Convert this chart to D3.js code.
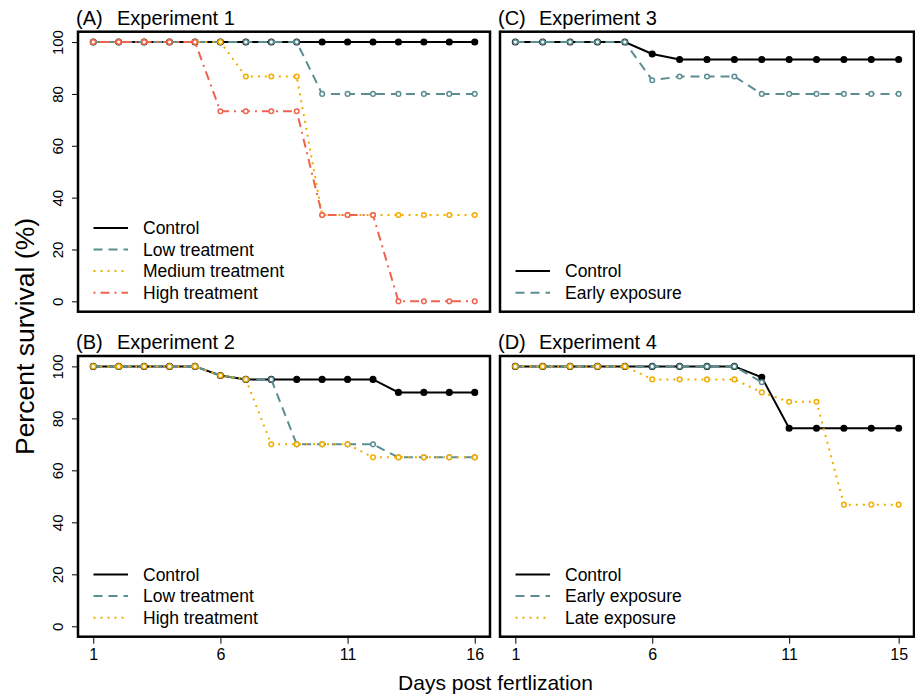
<!DOCTYPE html>
<html>
<head>
<meta charset="utf-8">
<script src="https://cdn.jsdelivr.net/npm/d3@7"></script>
<style>
  body { margin: 0; background: #fff; }
  svg { font-family: "Liberation Sans", Arial, sans-serif; }
</style>
</head>
<body>
<svg id="chart" width="915" height="700"></svg>
<script>
// days post fertilization
const days16 = [1, 2, 3, 4, 5, 6, 7, 8, 9, 10, 11, 12, 13, 14, 15, 16];
const days15 = [1, 2, 3, 4, 5, 6, 7, 8, 9, 10, 11, 12, 13, 14, 15];
const days10 = [1, 2, 3, 4, 5, 6, 7, 8, 9, 10];

// Experiment 1
const exp1Control = [100, 100, 100, 100, 100, 100, 100, 100, 100, 100, 100, 100, 100, 100, 100, 100];
const exp1Low = [100, 100, 100, 100, 100, 100, 100, 100, 100, 80, 80, 80, 80, 80, 80, 80];
const exp1Medium = [100, 100, 100, 100, 100, 100, 86.7, 86.7, 86.7, 33.3, 33.3, 33.3, 33.3, 33.3, 33.3, 33.3];
const exp1High = [100, 100, 100, 100, 100, 73.3, 73.3, 73.3, 73.3, 33.3, 33.3, 33.3, 0, 0, 0, 0];

// Experiment 2
const exp2Control = [100, 100, 100, 100, 100, 96.5, 95, 95, 95, 95, 95, 95, 90, 90, 90, 90];
const exp2Low = [100, 100, 100, 100, 100, 96.5, 95, 95, 70, 70, 70, 70, 65, 65, 65, 65];
const exp2High = [100, 100, 100, 100, 100, 96.5, 95, 70, 70, 70, 70, 65, 65, 65, 65, 65];

// Experiment 3
const exp3Control = [100, 100, 100, 100, 100, 95.4, 93.3, 93.3, 93.3, 93.3, 93.3, 93.3, 93.3, 93.3, 93.3];
const exp3Early = [100, 100, 100, 100, 100, 85.3, 86.7, 86.7, 86.7, 80, 80, 80, 80, 80, 80];

// Experiment 4
const exp4Control = [100, 100, 100, 100, 100, 100, 100, 100, 100, 95.8, 76.2, 76.2, 76.2, 76.2, 76.2];
const exp4Early = [100, 100, 100, 100, 100, 100, 100, 100, 100, 93.9];
const exp4Late = [100, 100, 100, 100, 100, 95, 95, 95, 95, 90, 86.4, 86.4, 46.8, 46.8, 46.8];

const yTicks = [0, 20, 40, 60, 80, 100];
const xTicks16 = [1, 6, 11, 16];
const xTicks15 = [1, 6, 11, 15];

const styles = {
  control: { color: '#000000', dash: null, filled: true },
  teal: { color: '#5b8e92', dash: '9,6', filled: false },
  yellow: { color: '#f2ad00', dash: '2,5', filled: false },
  red: { color: '#f0634f', dash: '2,5,9,5', filled: false }
};

const panels = [
  {
    label: '(A)', title: 'Experiment 1', left: 78, right: 490, top: 31.7, bottom: 311.7,
    yAxis: true, xTicks: null, days: [1, 16],
    series: [
      { name: 'Control', x: days16, y: exp1Control, style: styles.control },
      { name: 'Low treatment', x: days16, y: exp1Low, style: styles.teal },
      { name: 'Medium treatment', x: days16, y: exp1Medium, style: styles.yellow },
      { name: 'High treatment', x: days16, y: exp1High, style: styles.red }
    ]
  },
  {
    label: '(C)', title: 'Experiment 3', left: 500, right: 914, top: 31.7, bottom: 311.7,
    yAxis: false, xTicks: null, days: [1, 15],
    series: [
      { name: 'Control', x: days15, y: exp3Control, style: styles.control },
      { name: 'Early exposure', x: days15, y: exp3Early, style: styles.teal }
    ]
  },
  {
    label: '(B)', title: 'Experiment 2', left: 78, right: 490, top: 356, bottom: 636.7,
    yAxis: true, xTicks: xTicks16, days: [1, 16],
    series: [
      { name: 'Control', x: days16, y: exp2Control, style: styles.control },
      { name: 'Low treatment', x: days16, y: exp2Low, style: styles.teal },
      { name: 'High treatment', x: days16, y: exp2High, style: styles.yellow }
    ]
  },
  {
    label: '(D)', title: 'Experiment 4', left: 500, right: 914, top: 356, bottom: 636.7,
    yAxis: false, xTicks: xTicks15, days: [1, 15],
    series: [
      { name: 'Control', x: days15, y: exp4Control, style: styles.control },
      { name: 'Early exposure', x: days10, y: exp4Early, style: styles.teal },
      { name: 'Late exposure', x: days15, y: exp4Late, style: styles.yellow }
    ]
  }
];

const svg = d3.select('#chart');

panels.forEach(function (p) {
  // R style 4% padding on both axes
  const span = p.days[1] - p.days[0];
  const x = d3.scaleLinear()
    .domain([p.days[0] - span * 0.04, p.days[1] + span * 0.04])
    .range([p.left, p.right]);
  const y = d3.scaleLinear().domain([-4, 104]).range([p.bottom, p.top]);

  const g = svg.append('g');

  if (p.yAxis) {
    const ay = g.append('g')
      .attr('transform', 'translate(' + p.left + ',0)')
      .call(d3.axisLeft(y).tickValues(yTicks).tickSize(6));
    ay.select('.domain').remove();
    ay.selectAll('line').attr('stroke', '#000');
    ay.selectAll('text')
      .attr('transform', 'rotate(-90)')
      .attr('x', 0)
      .attr('y', -15)
      .attr('dy', 0)
      .attr('text-anchor', 'middle')
      .attr('fill', '#000')
      .style('font-size', '15px')
      .style('font-family', '"Liberation Sans", Arial, sans-serif');
  }

  if (p.xTicks) {
    const ax = g.append('g')
      .attr('transform', 'translate(0,' + p.bottom + ')')
      .call(d3.axisBottom(x).tickValues(p.xTicks).tickSize(7).tickPadding(5));
    ax.select('.domain').remove();
    ax.selectAll('line').attr('stroke', '#000');
    ax.selectAll('text')
      .attr('fill', '#000')
      .style('font-size', '16px')
      .style('font-family', '"Liberation Sans", Arial, sans-serif');
  }

  const line = d3.line()
    .x(function (d) { return x(d[0]); })
    .y(function (d) { return y(d[1]); });

  p.series.forEach(function (s) {
    const pts = s.x.map(function (d, i) { return [d, s.y[i]]; });
    g.append('path')
      .datum(pts)
      .attr('fill', 'none')
      .attr('stroke', s.style.color)
      .attr('stroke-width', 2)
      .attr('stroke-dasharray', s.style.dash)
      .attr('d', line);
    g.selectAll(null)
      .data(pts)
      .enter()
      .append('circle')
      .attr('cx', function (d) { return x(d[0]); })
      .attr('cy', function (d) { return y(d[1]); })
      .attr('r', s.style.filled ? 2.8 : 2.3)
      .attr('fill', s.style.filled ? s.style.color : '#fff')
      .attr('stroke', s.style.color)
      .attr('stroke-width', 1.5);
  });

  // legend, anchored to bottom-left of the frame
  const n = p.series.length;
  p.series.forEach(function (s, i) {
    const cy = p.bottom - 19 - (n - 1 - i) * 21.6;
    g.append('line')
      .attr('x1', p.left + 15.5).attr('x2', p.left + 50)
      .attr('y1', cy).attr('y2', cy)
      .attr('stroke', s.style.color)
      .attr('stroke-width', 2)
      .attr('stroke-dasharray', s.style.dash);
    g.append('text')
      .attr('x', p.left + 65)
      .attr('y', cy)
      .attr('dy', '0.35em')
      .style('font-size', '17.5px')
      .text(s.name);
  });

  // frame
  g.append('rect')
    .attr('x', p.left).attr('y', p.top)
    .attr('width', p.right - p.left).attr('height', p.bottom - p.top)
    .attr('fill', 'none')
    .attr('stroke', '#000')
    .attr('stroke-width', 2.5);

  // title
  g.append('text')
    .attr('x', p.left - 2).attr('y', p.top - 7)
    .style('font-size', '20px')
    .text(p.label);
  g.append('text')
    .attr('x', p.left + 39).attr('y', p.top - 7)
    .style('font-size', '20px')
    .text(p.title);
});

svg.append('text')
  .attr('transform', 'translate(34,336.5) rotate(-90)')
  .attr('text-anchor', 'middle')
  .style('font-size', '26.5px')
  .text('Percent survival (%)');

svg.append('text')
  .attr('x', 495.5).attr('y', 690)
  .attr('text-anchor', 'middle')
  .style('font-size', '21px')
  .text('Days post fertlization');
</script>
</body>
</html>
